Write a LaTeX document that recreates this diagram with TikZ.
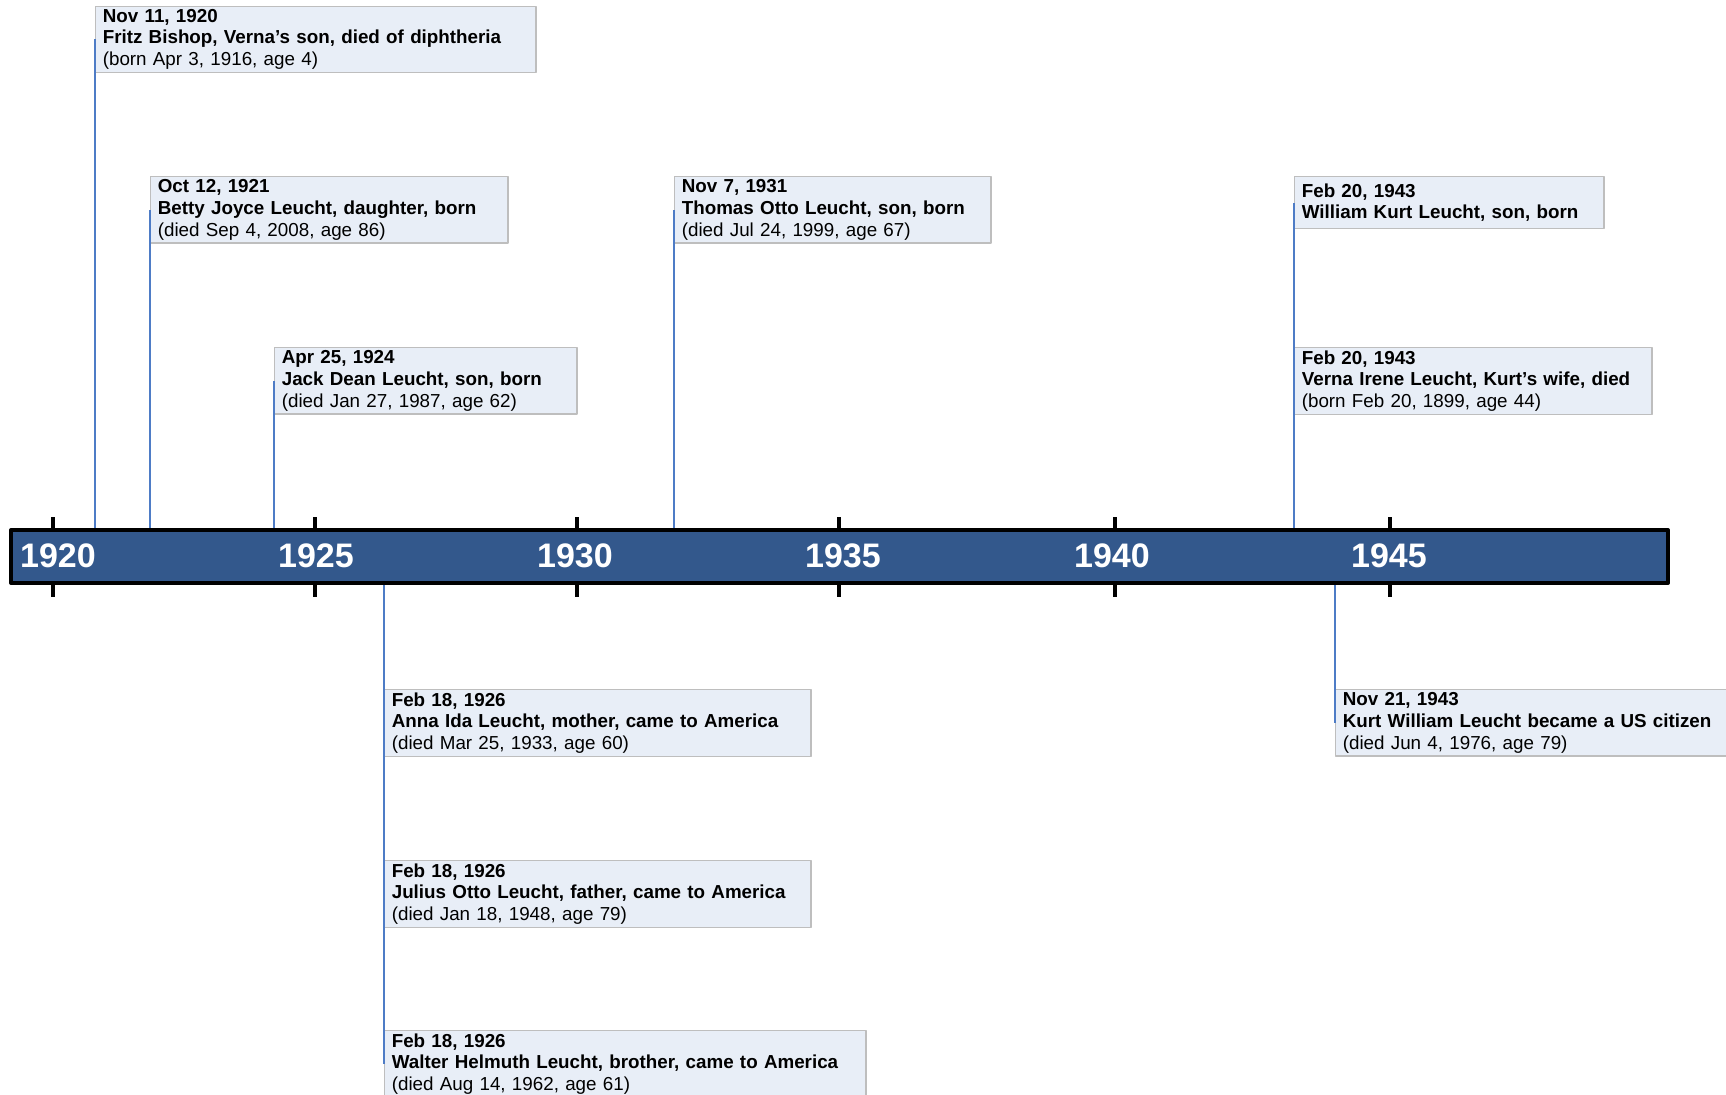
\documentclass[tikz,border=0pt]{standalone}
\usepackage{fontspec}
\setmainfont{Liberation Sans}
\definecolor{barblue}{RGB}{51,88,140}
\definecolor{evfill}{RGB}{232,238,247}
\definecolor{evedge}{RGB}{190,190,190}
\definecolor{evline}{RGB}{78,124,198}
\tikzset{
  evbox/.style={draw=evedge, fill=evfill, line width=.6pt, anchor=north west, align=left,
    inner xsep=3.6pt, inner ysep=1.5pt, minimum height=32.5pt, font=\fontsize{9.4}{10.85}\selectfont},
  evlink/.style={draw=evline, line width=1.1pt},
  yearlbl/.style={text=white, font=\fontsize{17}{20}\selectfont\bfseries},
}
\begin{document}
\begin{tikzpicture}[x=.5pt, y=-.5pt, line join=round]
  \useasboundingbox (0,0) rectangle (1726,1094);
  \clip (0,0) rectangle (1726,1094);
  \coordinate (bartop) at (0,530); \coordinate (barbot) at (0,583);
  % events above the bar
  \node[evbox, text width=213pt] (fritz) at (95,5.5) {\textbf{Nov 11, 1920}\\\textbf{Fritz Bishop, Verna’s son, died of diphtheria}\\(born Apr 3, 1916, age 4)};
  \node[evbox, text width=171.5pt] (betty) at (150,176) {\textbf{Oct 12, 1921}\\\textbf{Betty Joyce Leucht, daughter, born}\\(died Sep 4, 2008, age 86)};
  \node[evbox, text width=144pt] (jack) at (274,347) {\textbf{Apr 25, 1924}\\\textbf{Jack Dean Leucht, son, born}\\(died Jan 27, 1987, age 62)};
  \node[evbox, text width=151pt] (thomas) at (674,176) {\textbf{Nov 7, 1931}\\\textbf{Thomas Otto Leucht, son, born}\\(died Jul 24, 1999, age 67)};
  \node[evbox, text width=147.5pt, minimum height=26pt] (william) at (1294,176) {\textbf{Feb 20, 1943}\\\textbf{William Kurt Leucht, son, born}};
  \node[evbox, text width=171.5pt] (verna) at (1294,347) {\textbf{Feb 20, 1943}\\\textbf{Verna Irene Leucht, Kurt’s wife, died}\\(born Feb 20, 1899, age 44)};
  % events below the bar
  \node[evbox, text width=206pt] (anna) at (384,689) {\textbf{Feb 18, 1926}\\\textbf{Anna Ida Leucht, mother, came to America}\\(died Mar 25, 1933, age 60)};
  \node[evbox, text width=206pt] (julius) at (384,860) {\textbf{Feb 18, 1926}\\\textbf{Julius Otto Leucht, father, came to America}\\(died Jan 18, 1948, age 79)};
  \node[evbox, text width=233.5pt] (walter) at (384,1030) {\textbf{Feb 18, 1926}\\\textbf{Walter Helmuth Leucht, brother, came to America}\\(died Aug 14, 1962, age 61)};
  \node[evbox, text width=200pt] (kurt) at (1335,689) {\textbf{Nov 21, 1943}\\\textbf{Kurt William Leucht became a US citizen}\\(died Jun 4, 1976, age 79)};
  \foreach \ev in {fritz,betty,jack,thomas,william}
    \draw[evlink] (\ev.west |- bartop) -- (\ev.west);
  \foreach \ev in {walter,kurt}
    \draw[evlink] (\ev.west |- barbot) -- (\ev.west);
  % the axis
  \foreach \xx in {53,315,577,839,1115,1390}
    \draw[line width=1.6pt] (\xx,517) -- (\xx,597);
  \draw[line width=2pt, fill=barblue] (11,530) rectangle (1668,583);
  \foreach \yr/\xx in {1920/58,1925/316,1930/575,1935/843,1940/1112,1945/1389}
    \node[yearlbl] (y\yr) at (\xx,556) {\yr};
\end{tikzpicture}
\end{document}
